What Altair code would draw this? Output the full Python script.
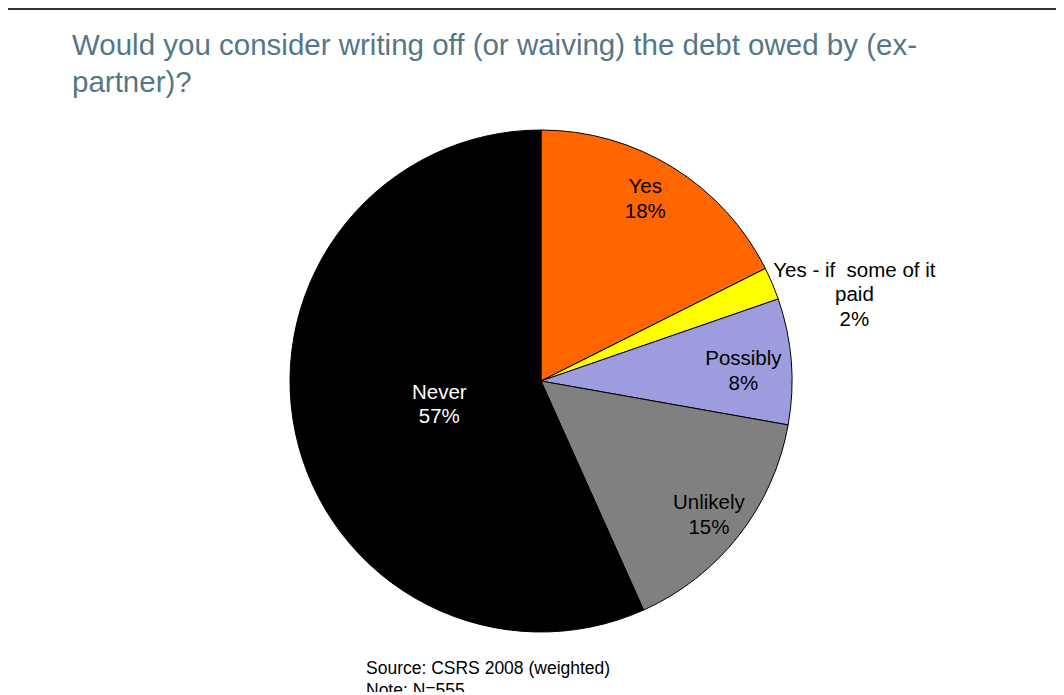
import altair as alt
import pandas as pd

categories = ["Yes", "Yes - if some of it paid", "Possibly", "Unlikely", "Never"]
values = [17.6, 2.1, 8.1, 15.5, 56.7]
labels = ["Yes\n18%", "Yes - if\u00a0 some of it\npaid\n2%", "Possibly\n8%", "Unlikely\n15%", "Never\n57%"]
colors = ["#FF6600", "#FFFF00", "#9C9CDE", "#808080", "#000000"]

title_lines = "Would you consider writing off (or waiving) the debt owed by (ex-\npartner)?"
source_lines = "Source: CSRS 2008 (weighted)\nNote: N=555"

df = pd.DataFrame({"cat": categories, "val": values, "label": labels,
                   "idx": list(range(len(categories)))})

W, H = 1048, 684
CX, CY, R = 533, 373, 251
FONT = "Liberation Sans"

base = alt.Chart(df).encode(
    theta=alt.Theta("val:Q", stack=True),
    order=alt.Order("idx:Q"),
    x=alt.value(CX),
    y=alt.value(CY),
)

pie = base.mark_arc(outerRadius=R, stroke="#000000", strokeWidth=1).encode(
    color=alt.Color("cat:N", scale=alt.Scale(domain=categories, range=colors), legend=None)
)

def label_layer(name, radius, color, dx=0, dy=0):
    return base.transform_calculate(
        t=f"datum.cat == '{name}' ? datum.label : ''"
    ).mark_text(
        radius=radius, font=FONT, fontSize=20.5, lineHeight=24.5, lineBreak="\n",
        align="center", baseline="middle", color=color, dx=dx, dy=dy
    ).encode(text="t:N")

lab_yes = label_layer("Yes", 210, "#000000", dx=-6, dy=-15)
lab_pos = label_layer("Possibly", 202, "#000000", dx=1, dy=-6)
lab_unl = label_layer("Unlikely", 213, "#000000", dx=0, dy=-9)
lab_never = label_layer("Never", 105, "#FFFFFF", dx=1, dy=-10)
lab_out = label_layer("Yes - if some of it paid", 326, "#000000", dx=13, dy=16.5)

title = alt.Chart(pd.DataFrame({"t": [title_lines]})).mark_text(
    font=FONT, fontSize=29.5, lineHeight=37, lineBreak="\n", align="left",
    baseline="alphabetic", color="#547787"
).encode(text="t:N", x=alt.value(64), y=alt.value(47))

source = alt.Chart(pd.DataFrame({"t": [source_lines]})).mark_text(
    font=FONT, fontSize=17.5, lineHeight=22, lineBreak="\n", align="left",
    baseline="alphabetic", color="#000000"
).encode(text="t:N", x=alt.value(358), y=alt.value(666))

topbar = alt.Chart(pd.DataFrame({"a": [0]})).mark_rect(color="#333333").encode(
    x=alt.value(0), x2=alt.value(W), y=alt.value(0), y2=alt.value(2)
)

chart = alt.layer(topbar, pie, lab_yes, lab_pos, lab_unl, lab_never, lab_out, title, source).properties(
    width=W, height=H, padding=0, autosize=alt.AutoSizeParams(type="none")
).configure_view(stroke=None)

chart.save("out.html", embed_options={"renderer": "svg", "actions": False})
